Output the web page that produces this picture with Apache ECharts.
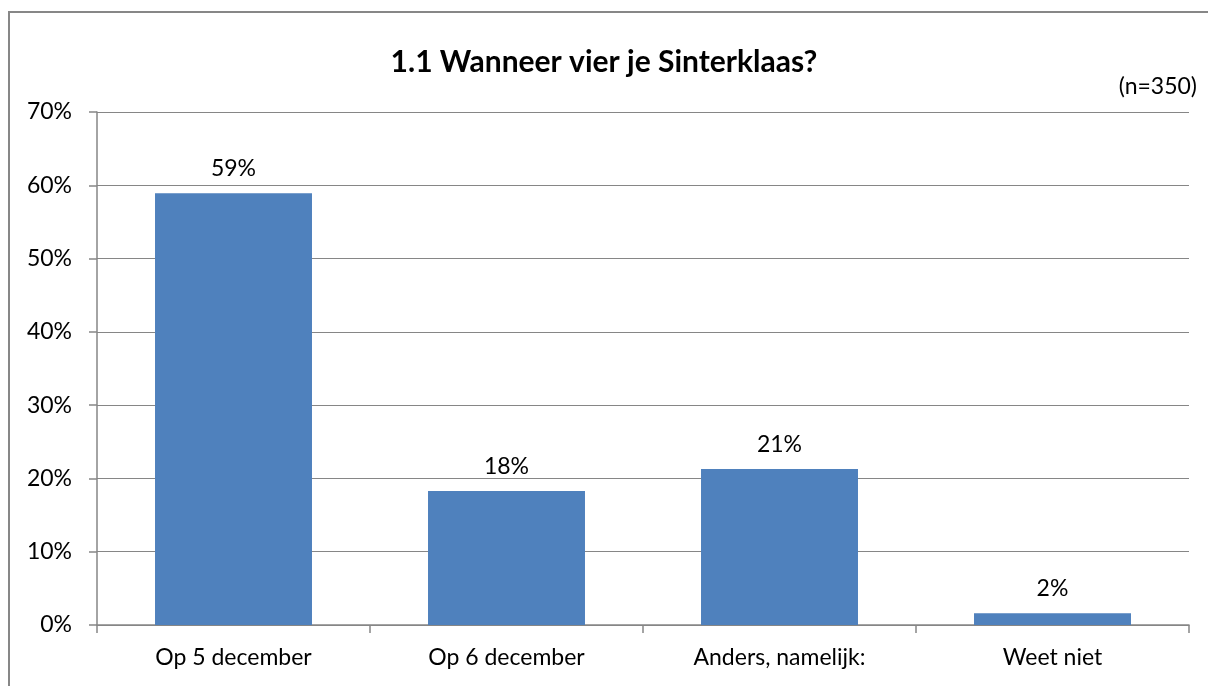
<!DOCTYPE html>
<html>
<head>
<meta charset="utf-8">
<script src="https://cdn.jsdelivr.net/npm/echarts@6/dist/echarts.min.js"></script>
<style>
  html, body { margin: 0; padding: 0; background: #fff; }
  #chart { width: 1208px; height: 686px; }
</style>
</head>
<body>
<div id="chart"></div>
<script>
const categories = ['Op 5 december', 'Op 6 december', 'Anders, namelijk:', 'Weet niet'];
const values = [58.9, 18.3, 21.3, 1.6];
const valueLabels = ['59%', '18%', '21%', '2%'];

const font = 'Lato, "Open Sans", sans-serif';
const chart = echarts.init(document.getElementById('chart'));

chart.setOption({
  animation: false,
  textStyle: { fontFamily: font },
  graphic: [
    {
      type: 'rect',
      shape: { x: 9, y: 12, width: 1300, height: 800 },
      style: { fill: 'none', stroke: '#878787', lineWidth: 2 },
      silent: true
    },
    {
      type: 'text',
      right: 11,
      top: 75,
      style: { text: '(n=350)', fontSize: 23, fontFamily: font, fill: '#000' }
    }
  ],
  title: {
    text: '1.1 Wanneer vier je Sinterklaas?',
    left: 'center',
    top: 42,
    textStyle: { fontSize: 30, fontWeight: 'bold', color: '#000', fontFamily: font }
  },
  grid: { left: 97, right: 19, top: 112, bottom: 61, containLabel: false },
  xAxis: {
    type: 'category',
    data: categories,
    axisLine: { lineStyle: { color: '#868686', width: 1.5 } },
    axisTick: { show: true, length: 8, alignWithLabel: false, lineStyle: { color: '#868686', width: 1.5 } },
    axisLabel: { color: '#000', fontSize: 23, margin: 21, fontFamily: font }
  },
  yAxis: {
    type: 'value',
    min: 0,
    max: 70,
    interval: 10,
    axisLine: { show: true, lineStyle: { color: '#868686', width: 1.5 } },
    axisTick: { show: true, length: 8, lineStyle: { color: '#868686', width: 1.5 } },
    splitLine: { lineStyle: { color: '#868686', width: 1.2 } },
    axisLabel: { color: '#000', fontSize: 23, margin: 25, formatter: '{value}%', fontFamily: font }
  },
  series: [
    {
      type: 'bar',
      data: values,
      barWidth: '57.5%',
      itemStyle: { color: '#4f81bd' },
      label: {
        show: true,
        position: 'top',
        distance: 13,
        color: '#000',
        fontSize: 23,
        fontFamily: font,
        formatter: (p) => valueLabels[p.dataIndex]
      }
    }
  ]
});
</script>
</body>
</html>
